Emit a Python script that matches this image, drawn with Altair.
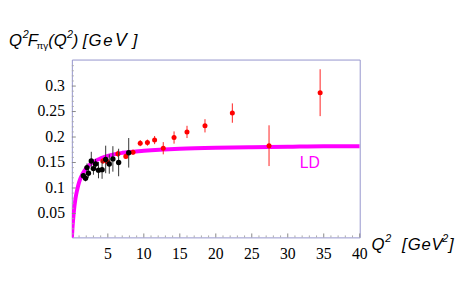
import altair as alt
import pandas as pd

# LD curve
ld_x = [0.0, 0.1, 0.25, 0.5, 0.75, 1.0, 1.5, 2.0, 3.0, 4.0, 5.0, 7.0, 10.0, 15.0, 20.0, 25.0, 30.0, 35.0, 40.0]
ld_y = [0.0, 0.024, 0.050, 0.079, 0.097, 0.111, 0.128, 0.139, 0.151, 0.158, 0.163, 0.169, 0.173, 0.177, 0.179, 0.180, 0.181, 0.182, 0.182]

# red data points
red_x = [4.3, 5.0, 6.4, 7.5, 8.5, 9.5, 10.5, 11.5, 12.7, 14.2, 16.0, 18.5, 22.3, 27.4, 34.5]
red_y = [0.153, 0.151, 0.167, 0.162, 0.170, 0.188, 0.189, 0.194, 0.178, 0.199, 0.210, 0.222, 0.247, 0.183, 0.287]
red_e = [0.006, 0.006, 0.006, 0.005, 0.005, 0.006, 0.006, 0.008, 0.012, 0.012, 0.012, 0.013, 0.019, 0.040, 0.046]

# black data points
blk_x = [1.6, 1.9, 2.1, 2.3, 2.7, 3.0, 3.3, 3.7, 4.2, 4.7, 5.2, 5.7, 6.5, 7.9]
blk_y = [0.124, 0.119, 0.140, 0.129, 0.153, 0.138, 0.147, 0.135, 0.136, 0.156, 0.147, 0.157, 0.150, 0.169]
blk_e = [0.005, 0.006, 0.008, 0.009, 0.018, 0.012, 0.010, 0.016, 0.018, 0.027, 0.019, 0.025, 0.027, 0.029]

x_ticks = [5, 10, 15, 20, 25, 30, 35, 40]
x_tick_labels = ["5", "10", "15", "20", "25", "30", "35", "40"]
y_ticks = [0.05, 0.1, 0.15, 0.2, 0.25, 0.3]
y_tick_labels = ["0.05", "0.1", "0.15", "0.2", "0.25", "0.3"]
x_minor = [v for v in range(1, 40) if v % 5 != 0]
y_minor = [0.01, 0.02, 0.03, 0.04, 0.06, 0.07, 0.08, 0.09, 0.11, 0.12, 0.13, 0.14, 0.16, 0.17, 0.18,
           0.19, 0.21, 0.22, 0.23, 0.24, 0.26, 0.27, 0.28, 0.29, 0.31, 0.32, 0.33, 0.34]

W, H = 293, 181
FRAME = "#9494cc"
SANS = "Liberation Sans"
SERIF = "Times New Roman, Liberation Serif, DejaVu Serif, serif"

xs = alt.Scale(domain=[0, 40], nice=False, zero=False)
ys = alt.Scale(domain=[0.003, 0.352], nice=False, zero=False)


def X(f):
    return alt.X(f, type="quantitative", scale=xs, axis=None)


def Y(f):
    return alt.Y(f, type="quantitative", scale=ys, axis=None)


ld = pd.DataFrame({"x": ld_x, "y": ld_y})
red = pd.DataFrame({"x": red_x, "y": red_y, "e": red_e})
red["lo"] = red["y"] - red["e"]
red["hi"] = red["y"] + red["e"]
blk = pd.DataFrame({"x": blk_x, "y": blk_y, "e": blk_e})
blk["lo"] = blk["y"] - blk["e"]
blk["hi"] = blk["y"] + blk["e"]

curve = alt.Chart(ld).mark_line(color="#ff00ff", strokeWidth=4, interpolate="monotone", clip=True).encode(
    x=X("x"), y=Y("y"))
red_err = alt.Chart(red).mark_rule(color="#ff2020", strokeWidth=1).encode(x=X("x"), y=Y("lo"), y2="hi")
red_pt = alt.Chart(red).mark_circle(color="#ff0000", size=26, opacity=1).encode(x=X("x"), y=Y("y"))
blk_err = alt.Chart(blk).mark_rule(color="#333333", strokeWidth=1).encode(x=X("x"), y=Y("lo"), y2="hi")
blk_pt = alt.Chart(blk).mark_circle(color="#000000", size=30, opacity=1).encode(x=X("x"), y=Y("y"))

xt_major = alt.Chart(pd.DataFrame({"v": x_ticks})).mark_rule(color="#888888").encode(
    x=X("v"), y=alt.value(H), y2=alt.value(H - 4))
xt_minor = alt.Chart(pd.DataFrame({"v": x_minor})).mark_rule(color="#aaaaaa").encode(
    x=X("v"), y=alt.value(H), y2=alt.value(H - 2))
yt_major = alt.Chart(pd.DataFrame({"v": y_ticks})).mark_rule(color="#888888").encode(
    y=Y("v"), x=alt.value(0), x2=alt.value(4))
yt_minor = alt.Chart(pd.DataFrame({"v": y_minor})).mark_rule(color="#aaaaaa").encode(
    y=Y("v"), x=alt.value(0), x2=alt.value(2))

x_lab = alt.Chart(pd.DataFrame({"v": x_ticks, "t": x_tick_labels})).mark_text(
    font=SERIF, fontSize=16, color="black", align="center", baseline="alphabetic").encode(
    x=X("v"), y=alt.value(H + 22), text="t:N")
y_lab = alt.Chart(pd.DataFrame({"v": y_ticks, "t": y_tick_labels})).mark_text(
    font=SERIF, fontSize=16, color="black", align="right", baseline="middle").encode(
    y=Y("v"), x=alt.value(-7), text="t:N")

ld_label = alt.Chart(pd.DataFrame({"t": ["LD"]})).mark_text(
    color="#ff00ff", font=SANS, fontSize=16, align="left", baseline="alphabetic").encode(
    text="t:N", x=alt.value(232), y=alt.value(110))


def txt(s, x, y, size=17, style="italic"):
    return alt.Chart(pd.DataFrame({"t": [s]})).mark_text(
        font=SANS, fontSize=size, fontStyle=style, align="left", baseline="alphabetic", color="black").encode(
        text="t:N", x=alt.value(x), y=alt.value(y))


title_parts = [
    txt("Q", -64, -14), txt("2", -50, -22, 11), txt("F", -45, -14), txt("πγ", -36, -11, 10, "normal"),
    txt("(Q", -24, -14), txt("2", -5, -22, 11), txt(")", 1, -14),
    txt("[", 11, -14), txt("G", 17, -14), txt("e", 32, -14), txt("V", 44, -14, 18), txt("]", 62, -14),
]
xlabel_parts = [
    txt("Q", 305, 194), txt("2", 319, 186, 11),
    txt("[", 336, 194), txt("G", 342, 194), txt("e", 356, 194), txt("V", 366, 194),
    txt("2", 377, 186, 11), txt("]", 384, 194),
]

chart = alt.layer(
    curve, red_err, red_pt, blk_err, blk_pt, xt_major, xt_minor, yt_major, yt_minor,
    x_lab, y_lab, ld_label, *title_parts, *xlabel_parts,
).properties(
    width=W, height=H,
    background="white",
    padding={"left": 65, "top": 50, "right": 98, "bottom": 48},
    autosize=alt.AutoSizeParams(type="none"),
).configure_view(stroke=FRAME, strokeWidth=1)

chart.save("out.html", embed_options={"renderer": "svg", "actions": False})
